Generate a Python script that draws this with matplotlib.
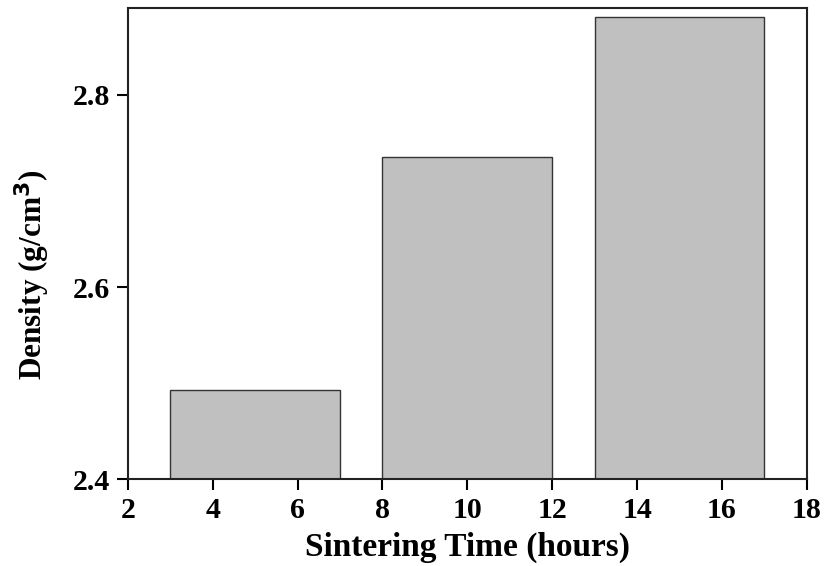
import matplotlib.pyplot as plt

# sintering time (hours) and measured density
times = [5, 10, 15]
density = [2.493, 2.735, 2.881]
xticks = [2, 4, 6, 8, 10, 12, 14, 16, 18]
yticks = [2.4, 2.6, 2.8]

plt.rcParams['font.family'] = ['Liberation Serif', 'DejaVu Serif']
plt.rcParams['font.weight'] = 'bold'

fig = plt.figure(figsize=(8.25, 5.66), dpi=100)
ax = fig.add_axes([0.155, 0.153, 0.823, 0.833])

ax.bar(times, [d - 2.4 for d in density], width=4, bottom=2.4,
       color='#c0c0c0', edgecolor='#333333', linewidth=1.0)

ax.set_xlim(2, 18)
ax.set_ylim(2.4, 2.8906)
ax.set_xticks(xticks)
ax.set_yticks(yticks)
ax.set_yticklabels(['%.1f' % v for v in yticks])

ax.tick_params(direction='out', length=8, width=1.5, labelsize=21.5, pad=5)
ax.tick_params(top=False, right=False)
for s in ax.spines.values():
    s.set_linewidth(1.5)
    s.set_color('#222222')

ax.set_xlabel('Sintering Time (hours)', fontsize=24, fontweight='bold', labelpad=5)
ax.set_ylabel('Density (g/cm$^\\mathbf{3}$)', fontsize=22.5, fontweight='bold')
ax.yaxis.set_label_coords(-0.112, 0.435)

fig.savefig('out.png', dpi=100)
